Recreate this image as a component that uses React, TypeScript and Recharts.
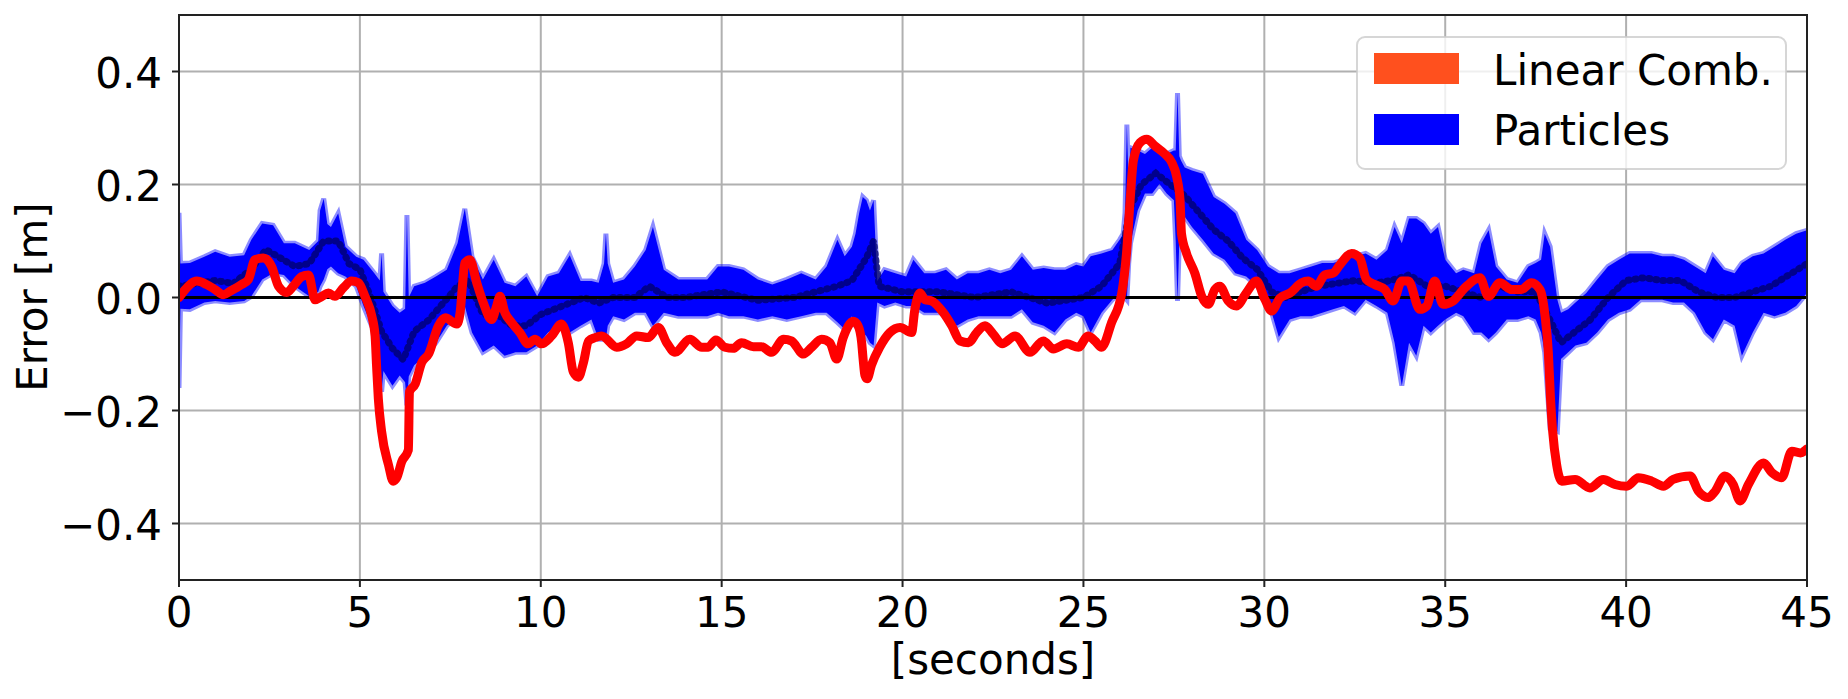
import {
  Area,
  CartesianGrid,
  ComposedChart,
  Line,
  ReferenceLine,
  XAxis,
  YAxis,
} from "recharts"

const FONT = "'DejaVu Sans', sans-serif"

// axes
const xTicks = [0, 5, 10, 15, 20, 25, 30, 35, 40, 45]
const yTicks = [-0.4, -0.2, 0, 0.2, 0.4]

// Linear Comb. estimate error (red)
const linearTime = [
  0, 0.17, 0.49, 0.76, 1.0, 1.23, 1.41, 1.73, 1.92, 2.1,
  2.33, 2.56, 2.75, 2.98, 3.16, 3.39, 3.58, 3.76, 3.95, 4.13,
  4.31, 4.54, 4.77, 4.96, 5.14, 5.33, 5.42, 5.46, 5.51, 5.6,
  5.79, 5.92, 6.02, 6.16, 6.34, 6.37, 6.53, 6.71, 6.9, 7.17,
  7.36, 7.68, 7.77, 7.83, 7.9, 8.04, 8.23, 8.41, 8.64, 8.78,
  8.87, 9.01, 9.19, 9.42, 9.65, 9.84, 10.02, 10.3, 10.57, 10.76,
  10.9, 11.04, 11.18, 11.32, 11.5, 11.68, 12.1, 12.37, 12.65, 12.97,
  13.25, 13.48, 13.71, 14.12, 14.45, 14.63, 14.84, 15.09, 15.32, 15.55,
  15.88, 16.1, 16.38, 16.71, 16.93, 17.26, 17.49, 17.76, 17.99, 18.18,
  18.36, 18.64, 18.77, 18.87, 18.91, 18.96, 19.02, 19.14, 19.37, 19.65,
  19.93, 20.25, 20.34, 20.48, 20.62, 20.8, 21.13, 21.36, 21.59, 21.82,
  22.05, 22.28, 22.51, 22.75, 23.11, 23.52, 23.89, 24.17, 24.54, 24.86,
  25.13, 25.32, 25.5, 25.78, 26.06, 26.19, 26.29, 26.38, 26.56, 26.75,
  26.98, 27.25, 27.44, 27.58, 27.67, 27.71, 27.85, 28.08, 28.27, 28.45,
  28.63, 28.77, 29.0, 29.23, 29.5, 29.78, 30.02, 30.2, 30.43, 30.71,
  31.03, 31.21, 31.44, 31.67, 31.9, 32.09, 32.41, 32.64, 32.82, 33.05,
  33.33, 33.56, 33.8, 33.98, 34.3, 34.49, 34.71, 34.94, 35.22, 35.54,
  35.96, 36.19, 36.51, 36.84, 37.1, 37.38, 37.62, 37.76, 37.85, 37.91,
  37.97, 38.08, 38.22, 38.59, 39.0, 39.37, 39.69, 40.02, 40.34, 40.71,
  41.03, 41.3, 41.77, 42.0, 42.27, 42.46, 42.73, 42.96, 43.15, 43.38,
  43.8, 44.03, 44.3, 44.58, 44.82, 45.0,
]
const linearError = [
  0.0, 0.014, 0.029, 0.023, 0.014, 0.005, 0.011, 0.023, 0.032, 0.067,
  0.07, 0.055, 0.02, 0.009, 0.02, 0.037, 0.04, -0.004, 0.002, 0.008,
  0.002, 0.017, 0.029, 0.026, 0.002, -0.033, -0.068, -0.12, -0.179, -0.237,
  -0.296, -0.325, -0.319, -0.29, -0.27, -0.167, -0.153, -0.115, -0.1, -0.05,
  -0.036, -0.047, -0.027, 0.017, 0.061, 0.067, 0.026, -0.009, -0.039, -0.015,
  0.002, -0.027, -0.044, -0.062, -0.082, -0.074, -0.082, -0.068, -0.047, -0.08,
  -0.132, -0.141, -0.115, -0.077, -0.071, -0.068, -0.088, -0.082, -0.068, -0.071,
  -0.053, -0.08, -0.097, -0.074, -0.088, -0.088, -0.075, -0.088, -0.09, -0.08,
  -0.087, -0.087, -0.097, -0.074, -0.077, -0.1, -0.088, -0.074, -0.08, -0.109,
  -0.071, -0.042, -0.05, -0.08, -0.109, -0.138, -0.144, -0.12, -0.088, -0.062,
  -0.053, -0.062, -0.021, 0.008, -0.004, -0.006, -0.027, -0.05, -0.077, -0.08,
  -0.062, -0.05, -0.065, -0.082, -0.068, -0.097, -0.077, -0.091, -0.082, -0.088,
  -0.068, -0.077, -0.088, -0.044, 0.008, 0.078, 0.172, 0.242, 0.274, 0.28,
  0.268, 0.254, 0.239, 0.213, 0.172, 0.113, 0.078, 0.043, 0.002, -0.012,
  0.014, 0.02, -0.006, -0.015, 0.008, 0.029, -0.004, -0.024, -0.001, 0.008,
  0.026, 0.029, 0.02, 0.04, 0.043, 0.058, 0.078, 0.07, 0.032, 0.023,
  0.014, -0.006, 0.029, 0.029, -0.021, -0.015, 0.029, -0.012, -0.006, 0.017,
  0.035, 0.002, 0.026, 0.014, 0.014, 0.026, 0.014, -0.033, -0.097, -0.179,
  -0.237, -0.296, -0.325, -0.322, -0.337, -0.322, -0.331, -0.334, -0.319, -0.325,
  -0.334, -0.322, -0.316, -0.343, -0.354, -0.343, -0.316, -0.331, -0.36, -0.331,
  -0.293, -0.31, -0.319, -0.272, -0.275, -0.268,
]

// Particles: spread of the cloud (upper / lower edge)
const particleTime = [
  0, 0.04, 0.3, 0.7, 1.0, 1.4, 1.8, 2.0, 2.3, 2.6,
  2.9, 3.2, 3.6, 3.85, 3.9, 4.0, 4.1, 4.2, 4.4, 4.6,
  4.9, 5.1, 5.4, 5.55, 5.6, 5.65, 5.9, 6.1, 6.25, 6.3,
  6.35, 6.5, 6.8, 7.1, 7.4, 7.7, 7.9, 8.1, 8.4, 8.7,
  9.0, 9.3, 9.6, 9.9, 10.2, 10.5, 10.8, 11.1, 11.4, 11.6,
  11.75, 11.8, 11.85, 12.0, 12.3, 12.6, 12.9, 13.1, 13.4, 13.8,
  14.2, 14.6, 14.9, 15.2, 15.6, 16.0, 16.4, 16.8, 17.2, 17.6,
  17.9, 18.2, 18.4, 18.6, 18.7, 18.8, 18.9, 19.0, 19.1, 19.2,
  19.3, 19.5, 19.8, 20.1, 20.3, 20.6, 20.9, 21.2, 21.5, 21.8,
  22.1, 22.4, 22.7, 23.0, 23.3, 23.6, 23.9, 24.2, 24.5, 24.8,
  25.0, 25.2, 25.5, 25.8, 26.0, 26.1, 26.15, 26.2, 26.25, 26.3,
  26.5, 26.7, 26.9, 27.1, 27.3, 27.5, 27.55, 27.6, 27.65, 27.7,
  27.8, 28.0, 28.3, 28.6, 28.9, 29.2, 29.5, 29.8, 30.1, 30.4,
  30.7, 31.0, 31.3, 31.6, 31.9, 32.2, 32.5, 32.8, 33.1, 33.4,
  33.6, 33.8, 34.0, 34.2, 34.4, 34.6, 34.8, 35.0, 35.3, 35.5,
  35.8, 36.0, 36.2, 36.4, 36.7, 37.0, 37.3, 37.5, 37.65, 37.75,
  37.9, 38.1, 38.2, 38.4, 38.6, 38.9, 39.2, 39.5, 39.8, 40.1,
  40.4, 40.7, 41.0, 41.3, 41.6, 41.9, 42.2, 42.4, 42.7, 43.0,
  43.2, 43.5, 43.8, 44.1, 44.4, 44.7, 45.0,
]
const particleHigh = [
  0.15, 0.06, 0.061, 0.072, 0.081, 0.072, 0.075, 0.102, 0.131, 0.128,
  0.096, 0.096, 0.084, 0.1, 0.154, 0.175, 0.13, 0.125, 0.149, 0.09,
  0.072, 0.067, 0.043, 0.03, 0.078, 0.01, -0.015, -0.027, -0.02, 0.146,
  0.0, 0.02, 0.026, 0.037, 0.049, 0.096, 0.157, 0.072, 0.032, 0.067,
  0.026, 0.02, 0.037, 0.002, 0.037, 0.043, 0.075, 0.029, 0.029, 0.026,
  0.06, 0.113, 0.06, 0.026, 0.032, 0.055, 0.084, 0.125, 0.049, 0.032,
  0.032, 0.032, 0.055, 0.055, 0.049, 0.032, 0.023, 0.032, 0.043, 0.032,
  0.055, 0.102, 0.073, 0.09, 0.113, 0.149, 0.178, 0.172, 0.154, 0.172,
  0.029, 0.049, 0.043, 0.037, 0.067, 0.043, 0.043, 0.049, 0.032, 0.043,
  0.043, 0.049, 0.043, 0.049, 0.073, 0.049, 0.052, 0.049, 0.049, 0.058,
  0.055, 0.073, 0.078, 0.084, 0.102, 0.113, 0.15, 0.306, 0.2, 0.265,
  0.26, 0.254, 0.265, 0.26, 0.254, 0.26, 0.26, 0.362, 0.25, 0.242,
  0.23, 0.225, 0.219, 0.178, 0.166, 0.149, 0.102, 0.084, 0.055, 0.043,
  0.043, 0.049, 0.055, 0.061, 0.061, 0.067, 0.073, 0.078, 0.067, 0.084,
  0.125, 0.096, 0.14, 0.14, 0.131, 0.113, 0.125, 0.067, 0.043, 0.049,
  0.043, 0.096, 0.119, 0.055, 0.032, 0.026, 0.055, 0.061, 0.067, 0.113,
  0.09, -0.004, -0.027, -0.021, -0.009, 0.008, 0.032, 0.055, 0.067, 0.078,
  0.078, 0.078, 0.073, 0.073, 0.067, 0.055, 0.043, 0.073, 0.049, 0.043,
  0.061, 0.073, 0.078, 0.09, 0.102, 0.113, 0.119,
]
const particleLow = [
  -0.16, -0.02, -0.021, -0.009, -0.006, -0.009, -0.006, 0.002, 0.032, 0.043,
  0.04, 0.02, 0.002, 0.01, 0.02, 0.032, 0.05, 0.055, 0.043, 0.037,
  0.02, -0.015, -0.062, -0.1, -0.167, -0.13, -0.156, -0.138, -0.15, -0.191,
  -0.14, -0.12, -0.103, -0.08, -0.05, -0.033, -0.015, -0.062, -0.097, -0.085,
  -0.103, -0.097, -0.097, -0.085, -0.062, -0.05, -0.062, -0.05, -0.039, -0.074,
  -0.074, -0.074, -0.05, -0.033, -0.039, -0.027, -0.027, -0.05, -0.027, -0.033,
  -0.033, -0.033, -0.027, -0.033, -0.033, -0.039, -0.033, -0.039, -0.033, -0.027,
  -0.027, -0.044, -0.056, -0.033, -0.05, -0.056, -0.062, -0.068, -0.08, -0.085,
  -0.009, -0.015, -0.009, -0.015, -0.015, -0.027, -0.027, -0.027, -0.05, -0.039,
  -0.033, -0.033, -0.033, -0.033, -0.021, -0.044, -0.05, -0.062, -0.039, -0.027,
  -0.033, -0.062, -0.027, -0.004, 0.008, 0.02, 0.0, -0.004, 0.06, 0.096,
  0.154, 0.184, 0.184, 0.201, 0.184, 0.172, 0.1, -0.006, 0.1, 0.154,
  0.143, 0.125, 0.102, 0.078, 0.067, 0.043, 0.037, 0.02, -0.004, -0.07,
  -0.039, -0.033, -0.033, -0.027, -0.021, -0.015, -0.027, -0.004, -0.015, -0.027,
  -0.08, -0.156, -0.08, -0.103, -0.05, -0.062, -0.05, -0.039, -0.027, -0.033,
  -0.062, -0.062, -0.074, -0.062, -0.039, -0.039, -0.033, -0.039, -0.062, -0.097,
  -0.232, -0.237, -0.109, -0.097, -0.085, -0.08, -0.062, -0.039, -0.027, -0.021,
  -0.004, -0.004, -0.004, -0.009, -0.009, -0.027, -0.062, -0.074, -0.039, -0.05,
  -0.103, -0.062, -0.027, -0.033, -0.027, -0.015, 0.008,
]

// Particles: dark centre track of the cloud
const meanTime = [
  0, 0.5, 1.0, 1.5, 2.0, 2.4, 2.8, 3.2, 3.6, 4.0,
  4.4, 4.7, 5.0, 5.3, 5.6, 5.9, 6.2, 6.5, 6.9, 7.3,
  7.7, 8.0, 8.4, 8.8, 9.2, 9.6, 10.0, 10.4, 10.8, 11.2,
  11.6, 12.0, 12.6, 13.0, 13.5, 14.0, 15.0, 16.0, 17.0, 17.6,
  18.2, 18.6, 19.0, 19.2, 19.35, 20.0, 21.0, 22.0, 23.0, 24.0,
  25.0, 25.5, 26.0, 26.3, 26.6, 27.0, 27.4, 27.8, 28.2, 28.6,
  29.0, 29.4, 29.8, 30.2, 30.6, 31.0, 31.5, 32.0, 32.5, 33.0,
  33.5, 34.0, 34.5, 35.0, 35.5, 36.0, 36.5, 37.0, 37.5, 37.9,
  38.2, 38.6, 39.0, 39.5, 40.0, 40.5, 41.0, 41.5, 42.0, 42.5,
  43.0, 43.5, 44.0, 44.5, 45.0,
]
const meanError = [
  0.02, 0.025, 0.03, 0.025, 0.05, 0.085, 0.07, 0.055, 0.06, 0.1,
  0.1, 0.06, 0.05, 0.0, -0.06, -0.09, -0.11, -0.06, -0.04, -0.01,
  0.02, 0.03, -0.03, -0.03, -0.05, -0.05, -0.03, -0.02, -0.01, 0.0,
  -0.01, 0.0, 0.0, 0.02, 0.0, 0.0, 0.01, -0.005, 0.0, 0.01,
  0.02, 0.03, 0.07, 0.1, 0.02, 0.01, 0.01, 0.0, 0.01, -0.01,
  0.0, 0.02, 0.06, 0.16, 0.2, 0.22, 0.2, 0.18, 0.15, 0.12,
  0.1, 0.07, 0.05, 0.01, 0.0, 0.01, 0.02, 0.025, 0.03, 0.025,
  0.03, 0.04, 0.02, 0.02, 0.01, 0.0, 0.02, 0.01, 0.01, -0.04,
  -0.08, -0.06, -0.04, 0.0, 0.03, 0.035, 0.03, 0.03, 0.01, 0.0,
  0.0, 0.01, 0.02, 0.04, 0.06,
]

const legendItems = [
  { label: "Linear Comb.", color: "#ff501e" },
  { label: "Particles", color: "#0000ff" },
]

const linearData = linearTime.map((t, i) => ({ t, v: linearError[i] }))
const particleData = particleTime.map((t, i) => ({
  t,
  range: [particleLow[i], particleHigh[i]],
}))
const meanData = meanTime.map((t, i) => ({ t, v: meanError[i] }))

const formatY = (v: number) => {
  const s = Math.abs(v).toFixed(1)
  return v < -1e-9 ? `\u2212${s}` : s
}

// recharts clones label elements with its own x/y/angle, so use other names
function AxisTitle({
  text,
  posX,
  posY,
  rotate = 0,
}: {
  text: string
  posX: number
  posY: number
  rotate?: number
}) {
  return (
    <text
      x={posX}
      y={posY}
      textAnchor="middle"
      transform={rotate ? `rotate(${rotate}, ${posX}, ${posY})` : undefined}
      fontSize={42}
      fontFamily={FONT}
      fill="#000"
    >
      {text}
    </text>
  )
}

export default function App() {
  const tickStyle = { fontSize: 42, fill: "#000", fontFamily: FONT }
  return (
    <div
      style={{
        position: "absolute",
        left: 0,
        top: 0,
        width: 1848,
        height: 699,
        background: "#fff",
        fontFamily: FONT,
      }}
    >
      <ComposedChart
        width={1848}
        height={699}
        margin={{ top: 15, right: 41, bottom: 0, left: 0 }}
      >
        <CartesianGrid stroke="#b0b0b0" strokeWidth={2} />
        <XAxis
          type="number"
          dataKey="t"
          domain={[0, 45]}
          ticks={xTicks}
          allowDataOverflow
          height={119}
          axisLine={false}
          tickLine={{ stroke: "#222", strokeWidth: 2 }}
          tickSize={7}
          tickMargin={10}
          tick={tickStyle}
          label={<AxisTitle text="[seconds]" posX={993} posY={674} />}
        />
        <YAxis
          type="number"
          domain={[-0.5, 0.5]}
          ticks={yTicks}
          allowDataOverflow
          width={179}
          axisLine={false}
          tickLine={{ stroke: "#222", strokeWidth: 2 }}
          tickSize={7}
          tickMargin={10}
          tick={{ ...tickStyle, dy: 2 }}
          tickFormatter={formatY}
          label={<AxisTitle text="Error [m]" posX={47} posY={297} rotate={-90} />}
        />
        <Area
          data={particleData}
          dataKey="range"
          type="linear"
          fill="#0000ff"
          fillOpacity={1}
          stroke="#0000ff"
          strokeOpacity={0.45}
          strokeWidth={5}
          dot={false}
          activeDot={false}
          isAnimationActive={false}
        />
        <Line
          data={meanData}
          dataKey="v"
          type="linear"
          stroke="#000066"
          strokeOpacity={0.75}
          strokeWidth={7}
          strokeDasharray="1 6"
          strokeLinecap="round"
          dot={false}
          activeDot={false}
          isAnimationActive={false}
        />
        <ReferenceLine y={0} stroke="#000" strokeWidth={3} />
        <Line
          data={linearData}
          dataKey="v"
          type="monotone"
          stroke="#ff0000"
          strokeWidth={9}
          strokeLinejoin="round"
          strokeLinecap="round"
          dot={false}
          activeDot={false}
          isAnimationActive={false}
        />
      </ComposedChart>
      <svg
        width={1848}
        height={699}
        style={{ position: "absolute", left: 0, top: 0, pointerEvents: "none" }}
      >
        <rect x={179} y={15} width={1628} height={565} fill="none" stroke="#222" strokeWidth={2} />
        <rect
          x={1357}
          y={37}
          width={429}
          height={132}
          rx={8}
          fill="#fff"
          fillOpacity={0.8}
          stroke="#cccccc"
          strokeOpacity={0.8}
          strokeWidth={2}
        />
        {legendItems.map((item, i) => (
          <g key={item.label}>
            <rect x={1374} y={53 + i * 61} width={85} height={31} fill={item.color} />
            <text x={1493} y={85 + i * 60} fontSize={42} fontFamily={FONT} fill="#000">
              {item.label}
            </text>
          </g>
        ))}
      </svg>
    </div>
  )
}
